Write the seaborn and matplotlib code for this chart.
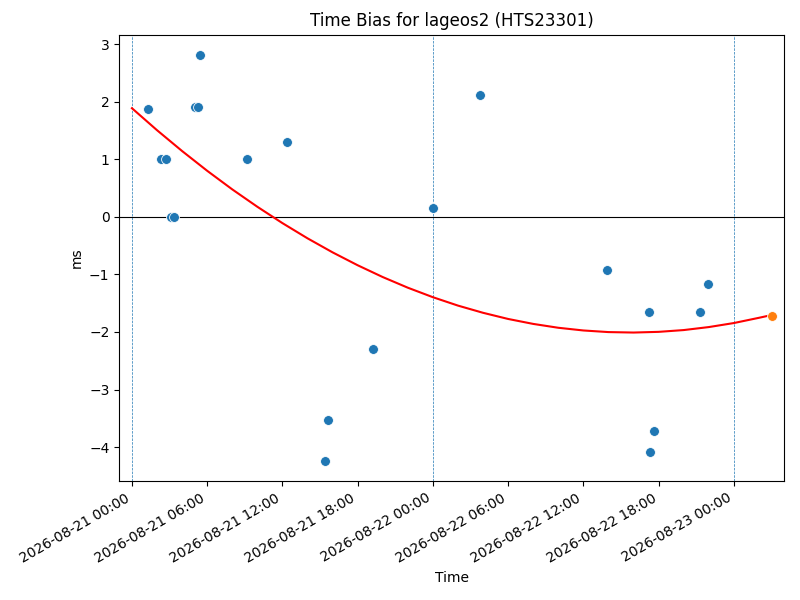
import pandas as pd
import seaborn as sns
import matplotlib.pyplot as plt
import matplotlib.dates as mdates

# Measured time bias points
obs_times = ['2026-08-21 01:19', '2026-08-21 02:19', '2026-08-21 02:41', '2026-08-21 03:08',
             '2026-08-21 03:22', '2026-08-21 05:01', '2026-08-21 05:14', '2026-08-21 05:28',
             '2026-08-21 09:11', '2026-08-21 12:24', '2026-08-21 15:26', '2026-08-21 15:40',
             '2026-08-21 19:15', '2026-08-22 00:02', '2026-08-22 03:45', '2026-08-22 13:54',
             '2026-08-22 17:14', '2026-08-22 17:19', '2026-08-22 17:38', '2026-08-22 21:19',
             '2026-08-22 21:56']
obs_bias = [1.88, 1.00, 1.00, 0.00, 0.00, 1.91, 1.91, 2.81, 1.00, 1.30, -4.24, -3.53,
            -2.30, 0.16, 2.11, -0.92, -1.65, -4.08, -3.72, -1.66, -1.17]

# Predicted point at the end of the fit
pred_time = ['2026-08-23 03:02']
pred_bias = [-1.72]

# Fitted curve, every two hours
fit_times = ['2026-08-21 00:00', '2026-08-21 02:00', '2026-08-21 04:00', '2026-08-21 06:00',
             '2026-08-21 08:00', '2026-08-21 10:00', '2026-08-21 12:00', '2026-08-21 14:00',
             '2026-08-21 16:00', '2026-08-21 18:00', '2026-08-21 20:00', '2026-08-21 22:00',
             '2026-08-22 00:00', '2026-08-22 02:00', '2026-08-22 04:00', '2026-08-22 06:00',
             '2026-08-22 08:00', '2026-08-22 10:00', '2026-08-22 12:00', '2026-08-22 14:00',
             '2026-08-22 16:00', '2026-08-22 18:00', '2026-08-22 20:00', '2026-08-22 22:00',
             '2026-08-23 00:00', '2026-08-23 02:00', '2026-08-23 03:02']
fit_bias = [1.887, 1.505, 1.143, 0.800, 0.477, 0.175, -0.109, -0.373, -0.617, -0.841,
            -1.046, -1.231, -1.396, -1.542, -1.667, -1.774, -1.860, -1.927, -1.974,
            -2.002, -2.010, -1.998, -1.967, -1.915, -1.845, -1.754, -1.705]

day_marks = ['2026-08-21', '2026-08-22', '2026-08-23']

obs = pd.DataFrame({'time': pd.to_datetime(obs_times), 'bias': obs_bias})
pred = pd.DataFrame({'time': pd.to_datetime(pred_time), 'bias': pred_bias})
fit = pd.DataFrame({'time': pd.to_datetime(fit_times), 'bias': fit_bias})

fig, ax = plt.subplots(figsize=(8, 6), dpi=100)

sns.lineplot(x='time', y='bias', data=fit, color='red', linewidth=1.5, ax=ax, zorder=2)
sns.scatterplot(x='time', y='bias', data=obs, color='C0', s=50, ax=ax, zorder=3)
sns.scatterplot(x='time', y='bias', data=pred, color='C1', s=50, ax=ax, zorder=3)

for d in day_marks:
    ax.axvline(pd.Timestamp(d), color='C0', linestyle='--', linewidth=0.5, zorder=1)
ax.axhline(0, color='black', linewidth=0.8, zorder=1)

ax.set_xlim(pd.Timestamp('2026-08-20 22:59'), pd.Timestamp('2026-08-23 04:00'))
ax.xaxis.set_major_locator(mdates.HourLocator(byhour=[0, 6, 12, 18]))
ax.xaxis.set_major_formatter(mdates.DateFormatter('%Y-%m-%d %H:%M'))
ax.set(title='Time Bias for lageos2 (HTS23301)', xlabel='Time', ylabel='ms')
fig.autofmt_xdate()

plt.subplots_adjust(left=0.149, right=0.98, top=0.942, bottom=0.198)
fig.savefig('out.png', dpi=100)
